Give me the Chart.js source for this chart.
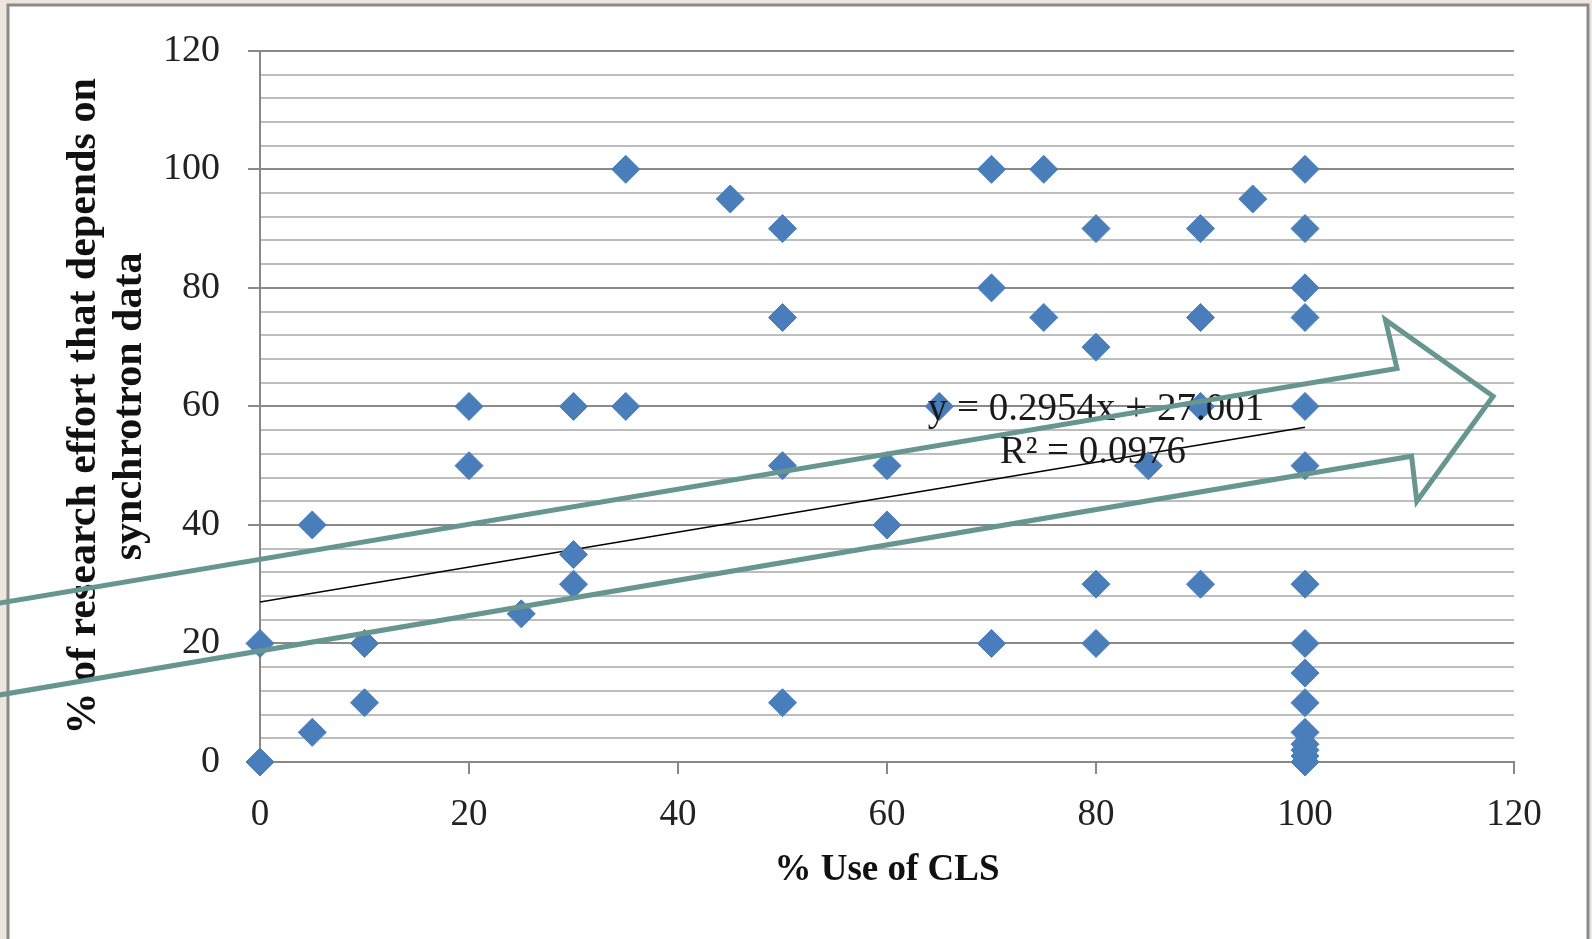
<!DOCTYPE html>
<html>
<head>
<meta charset="utf-8">
<script src="https://cdn.jsdelivr.net/npm/chart.js@4.4.1/dist/chart.umd.min.js"></script>
<style>
  html, body { margin: 0; padding: 0; background: #ece6df; }
  #wrap { width: 1592px; height: 939px; }
</style>
</head>
<body>
<div id="wrap"><canvas id="cls"></canvas></div>
<script>
// % use of CLS vs % of research effort depending on synchrotron data
const useCls = [
  0, 0, 5, 5, 10, 10, 20, 20, 25, 30, 30, 30, 35, 35, 45,
  50, 50, 50, 50, 60, 60, 65, 70, 70, 70, 75, 75,
  80, 80, 80, 80, 85, 90, 90, 90, 90, 95,
  100, 100, 100, 100, 100, 100, 100, 100, 100, 100, 100, 100, 100, 100, 100
];
const researchEffort = [
  20, 0, 40, 5, 20, 10, 60, 50, 25, 60, 35, 30, 100, 60, 95,
  90, 75, 50, 10, 50, 40, 60, 100, 80, 20, 100, 75,
  90, 70, 30, 20, 50, 90, 75, 60, 30, 95,
  100, 90, 80, 75, 60, 50, 30, 20, 15, 10, 5, 3, 2, 1, 0
];

// linear trend (Excel label)
const trendX = [0, 100];
const trendY = [27.0, 56.5];
const trendText = ['y = 0.2954x + 27.001', 'R\u00B2 = 0.0976'];

const xTicks = [0, 20, 40, 60, 80, 100, 120];
const yMajor = [0, 20, 40, 60, 80, 100, 120];

// hollow arrow drawn over the chart, in data units
const arrowX = [-27, 108.8, 107.7, 118.0, 110.7, 110.2, -27];
const arrowY = [26.2, 66.4, 74.6, 61.7, 44.0, 51.6, 10.7];

const serif = '"Liberation Serif", "Times New Roman", serif';

const frame = {
  id: 'frame',
  beforeDraw(chart) {
    const c = chart.ctx;
    c.save();
    c.fillStyle = '#ece6df';
    c.fillRect(0, 0, chart.width, chart.height);
    c.fillStyle = '#ffffff';
    c.fillRect(8, 5, 1580, 940);
    c.strokeStyle = '#8a8a8a';
    c.lineWidth = 3;
    c.strokeRect(8, 5, 1580, 945);
    c.restore();
  }
};

const overlay = {
  id: 'overlay',
  afterDraw(chart) {
    const c = chart.ctx;
    const xs = chart.scales.x, ys = chart.scales.y;
    c.save();
    // trend label
    c.fillStyle = '#1a1a1a';
    c.font = '39px ' + serif;
    c.textAlign = 'center';
    c.textBaseline = 'middle';
    c.fillText(trendText[0], xs.getPixelForValue(80), ys.getPixelForValue(59.5));
    c.fillText(trendText[1], xs.getPixelForValue(79.7), ys.getPixelForValue(52.2));
    // arrow
    c.strokeStyle = '#67958f';
    c.lineWidth = 5;
    c.lineJoin = 'miter';
    c.beginPath();
    arrowX.forEach((v, i) => {
      const px = xs.getPixelForValue(v), py = ys.getPixelForValue(arrowY[i]);
      if (i === 0) c.moveTo(px, py); else c.lineTo(px, py);
    });
    c.stroke();
    c.restore();
  }
};

new Chart(document.getElementById('cls'), {
  type: 'scatter',
  data: {
    datasets: [{
      label: 'effort',
      data: useCls.map((x, i) => ({ x: x, y: researchEffort[i] })),
      pointStyle: 'rectRot',
      pointRadius: 14,
      pointHoverRadius: 14,
      backgroundColor: '#4a7ebb',
      borderColor: '#4a7ebb',
      borderWidth: 1,
      clip: false
    }, {
      label: 'trend',
      type: 'line',
      data: trendX.map((x, i) => ({ x: x, y: trendY[i] })),
      borderColor: '#000',
      borderWidth: 1.5,
      pointRadius: 0,
      fill: false
    }]
  },
  options: {
    responsive: true,
    maintainAspectRatio: false,
    animation: false,
    events: [],
    layout: { padding: { left: 0, top: 48, right: 78, bottom: 0 } },
    plugins: { legend: { display: false }, tooltip: { enabled: false } },
    scales: {
      x: {
        type: 'linear',
        min: 0, max: 120,
        afterBuildTicks: s => { s.ticks = xTicks.map(v => ({ value: v })); },
        afterFit: s => { s.height = 177; },
        ticks: { color: '#222', padding: 19, font: { family: serif, size: 37 } },
        grid: { drawOnChartArea: false, tickLength: 12, color: '#888', lineWidth: 2 },
        border: { color: '#888', width: 2 },
        title: {
          display: true, text: '% Use of CLS', color: '#111',
          font: { family: serif, size: 37, weight: 'bold', lineHeight: 1.15 },
          padding: { top: 0, bottom: 47 }
        }
      },
      y: {
        min: 0, max: 120,
        afterFit: s => { s.width = 260; },
        ticks: {
          stepSize: 4, autoSkip: false, color: '#222', padding: 28,
          font: { family: serif, size: 38 },
          callback: v => (yMajor.includes(v) ? v : '')
        },
        grid: {
          tickLength: 12,
          lineWidth: 2,
          color: ctx => (yMajor.includes(ctx.tick.value) ? '#8a8a8a' : '#bdbdbd'),
          tickColor: ctx => (yMajor.includes(ctx.tick.value) ? '#8a8a8a' : 'rgba(0,0,0,0)')
        },
        border: { color: '#888', width: 2 },
        title: {
          display: true,
          text: ['% of research effort that depends on', 'synchrotron data'],
          color: '#111',
          font: { family: serif, size: 42, weight: 'bold', lineHeight: 1.1 },
          padding: { top: 61, bottom: 0 }
        }
      }
    }
  },
  plugins: [frame, overlay]
});
</script>
</body>
</html>
